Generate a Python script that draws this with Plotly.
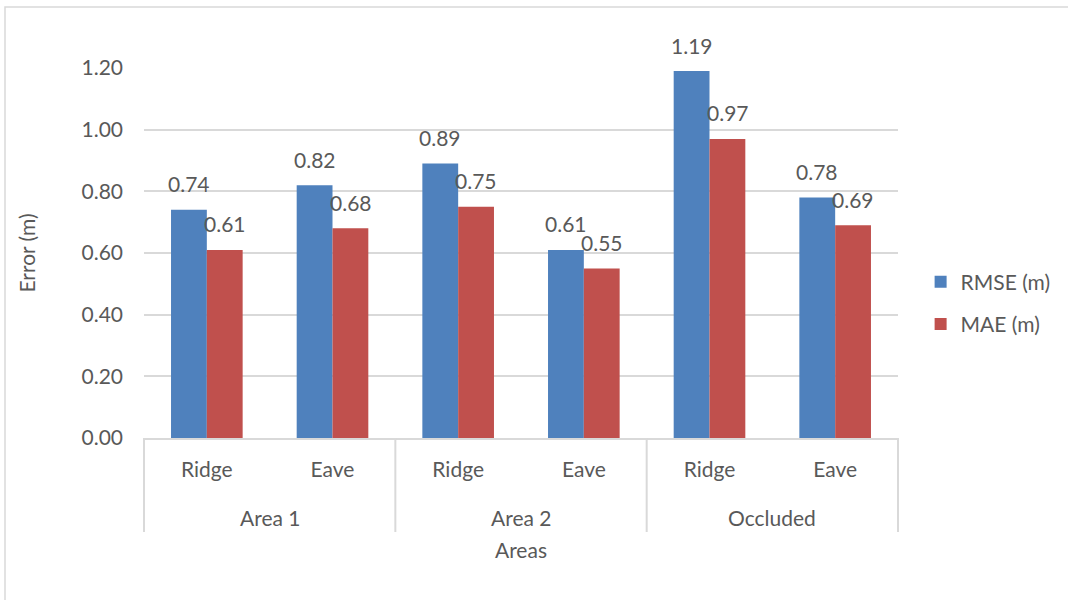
import plotly.graph_objects as go

areas = ["Area 1", "Area 1", "Area 2", "Area 2", "Occluded", "Occluded"]
parts = ["Ridge", "Eave", "Ridge", "Eave", "Ridge", "Eave"]
rmse = [0.74, 0.82, 0.89, 0.61, 1.19, 0.78]
mae = [0.61, 0.68, 0.75, 0.55, 0.97, 0.69]
y_ticks = [0.0, 0.2, 0.4, 0.6, 0.8, 1.0, 1.2]

BLUE = "#4F81BD"
RED = "#C0504D"
TXT = "#595959"
GRID = "#D9D9D9"
FONT = "Lato, Open Sans, sans-serif"

idx = list(range(len(parts)))
n = len(parts)

fig = go.Figure()
fig.add_trace(go.Bar(x=idx, y=rmse, name="RMSE (m)", marker_color=BLUE,
                     marker_line_width=0, legendgroup="a"))
fig.add_trace(go.Bar(x=idx, y=mae, name="MAE (m)", marker_color=RED,
                     marker_line_width=0, legendgroup="b"))

annotations = []
for i, (a, b) in enumerate(zip(rmse, mae)):
    annotations.append(dict(x=i, y=a, xref="x", yref="y", text=f"{a:.2f}", showarrow=False,
                            xshift=-18, yshift=26, font=dict(size=21, color=TXT, family=FONT)))
    annotations.append(dict(x=i, y=b, xref="x", yref="y", text=f"{b:.2f}", showarrow=False,
                            xshift=18, yshift=26, font=dict(size=21, color=TXT, family=FONT)))

# group (second-level) labels and dividers derived from the category lists
groups = []
for i, a in enumerate(areas):
    if not groups or groups[-1][0] != a:
        groups.append([a, i, i])
    else:
        groups[-1][2] = i

shapes = [dict(type="rect", xref="paper", yref="paper",
               x0=(5 - 144) / 754, x1=2, y0=-2, y1=(438 - 7) / 370,
               line=dict(color=GRID, width=1.5), layer="below")]
bounds = [g[1] - 0.5 for g in groups] + [groups[-1][2] + 0.5]
for bnd in bounds:
    px = (bnd + 0.5) / n
    shapes.append(dict(type="line", xref="paper", yref="paper", x0=px, x1=px,
                       y0=0, y1=-94 / 370, line=dict(color=GRID, width=2)))
for name, s, e in groups:
    annotations.append(dict(x=(s + e) / 2, y=0, xref="x", yref="paper", text=name,
                            showarrow=False, yshift=-79, yanchor="middle",
                            font=dict(size=21, color=TXT, family=FONT)))

fig.update_layout(
    width=1068, height=600,
    margin=dict(l=144, r=170, t=68, b=162),
    paper_bgcolor="white", plot_bgcolor="white",
    font=dict(family=FONT, size=21, color=TXT),
    barmode="group", bargap=0.43, bargroupgap=0,
    showlegend=True,
    legend=dict(xref="container", yref="container", x=0.862, y=1 - 303 / 600,
                xanchor="left", yanchor="middle", tracegroupgap=12,
                font=dict(size=21, color=TXT), bgcolor="rgba(0,0,0,0)"),
    annotations=annotations,
    shapes=shapes,
)
fig.update_xaxes(range=[-0.5, n - 0.5], tickvals=idx, ticktext=parts,
                 showline=True, linecolor=GRID, linewidth=2, showgrid=False, zeroline=False,
                 ticks="", ticklabelstandoff=12, tickfont=dict(size=21, color=TXT, family=FONT),
                 title=dict(text="Areas", font=dict(size=21, color=TXT, family=FONT), standoff=63),
                 automargin=False)
fig.update_yaxes(range=[0, 1.2], tickvals=y_ticks, tickformat=".2f", showgrid=True,
                 gridcolor=GRID, gridwidth=2, zeroline=False, showline=False,
                 ticklabelstandoff=20, tickfont=dict(size=21, color=TXT, family=FONT),
                 title=dict(text="Error (m)", font=dict(size=21, color=TXT, family=FONT), standoff=40),
                 automargin=False)

fig.write_html("out.html")
